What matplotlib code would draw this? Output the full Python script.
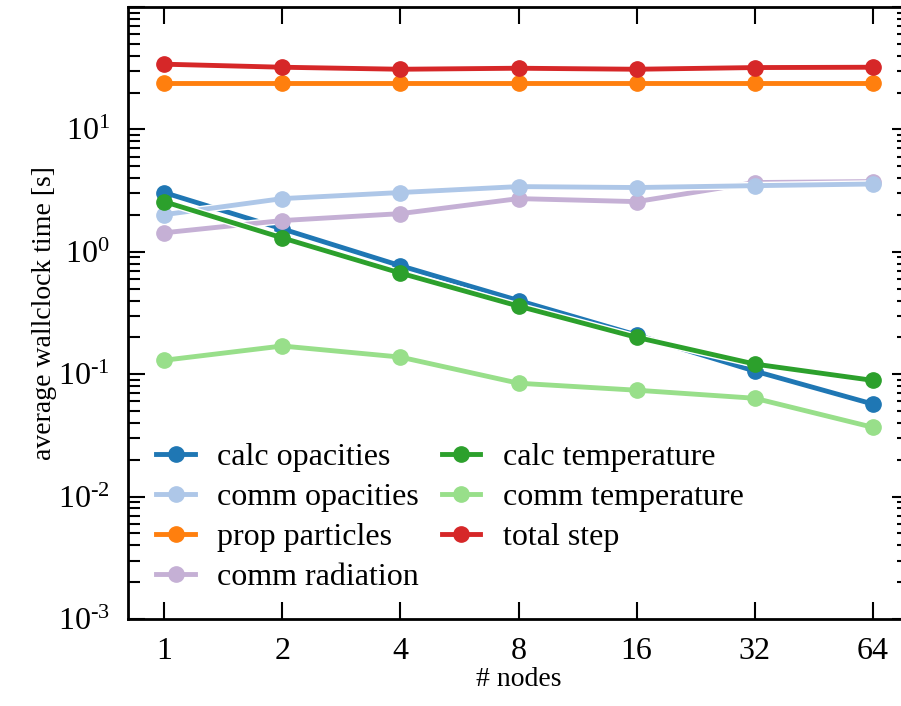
import math

import matplotlib
matplotlib.use('Agg')
import matplotlib.pyplot as plt
import matplotlib.patheffects as pe
from matplotlib.lines import Line2D
from matplotlib.ticker import FixedLocator, FuncFormatter, LogLocator, NullFormatter

nodes = [1, 2, 4, 8, 16, 32, 64]

calc_opacities = [3.05, 1.54, 0.77, 0.40, 0.209, 0.106, 0.057]
comm_opacities = [2.01, 2.72, 3.05, 3.41, 3.35, 3.47, 3.58]
prop_particles = [23.8, 23.8, 23.8, 23.8, 23.8, 23.8, 23.8]
comm_radiation = [1.43, 1.80, 2.05, 2.72, 2.57, 3.68, 3.75]
calc_temperature = [2.57, 1.30, 0.67, 0.36, 0.20, 0.121, 0.089]
comm_temperature = [0.130, 0.170, 0.138, 0.0844, 0.074, 0.0636, 0.0368]
total_step = [34.1, 32.2, 31.0, 31.6, 31.0, 32.0, 32.2]

labels = ['calc opacities', 'comm opacities', 'prop particles', 'comm radiation',
          'calc temperature', 'comm temperature', 'total step']
colors = ['#1f77b4', '#aec7e8', '#ff7f0e', '#c5b0d5',
          '#2ca02c', '#98df8a', '#d62728']

plt.rcParams['font.family'] = ['Liberation Serif', 'DejaVu Serif']
plt.rcParams['mathtext.fontset'] = 'custom'
plt.rcParams['mathtext.rm'] = 'Liberation Serif'
plt.rcParams['mathtext.it'] = 'Liberation Serif:italic'


def pow10(y, pos):
    k = int(round(math.log10(y)))
    if k > 1:
        return ''
    return r'10$^{\text{%d}}$' % k


fig = plt.figure(figsize=(9.01, 7.06), dpi=100)
ax = fig.add_axes([0.1421, 0.1232, 0.8668, 0.8669])

series = [calc_opacities, comm_opacities, prop_particles, comm_radiation,
          calc_temperature, comm_temperature, total_step]
zorders = [2, 2.6, 2, 2.5, 2.7, 2, 2]
lw = 3.5
handles = []
for data, label, color, z in zip(series, labels, colors, zorders):
    ax.plot(nodes, data, '-', color=color, lw=lw, zorder=z,
            path_effects=[pe.Stroke(linewidth=lw + 2, foreground='white'), pe.Normal()])
    ax.plot(nodes, data, 'o', color=color, ms=11, zorder=z + 0.05)
    handles.append(Line2D([], [], color=color, lw=lw, marker='o', ms=11, label=label))

ax.set_xscale('log', base=2)
ax.set_yscale('log')
ax.set_xlim(2 ** -0.305, 2 ** 6.305)
ax.set_ylim(1e-3, 1e2)

ax.xaxis.set_major_locator(FixedLocator(nodes))
ax.xaxis.set_major_formatter(FuncFormatter(lambda x, _: f'{int(round(x))}'))
ax.xaxis.set_minor_locator(FixedLocator([]))
ax.yaxis.set_major_locator(LogLocator(base=10, numticks=10))
ax.yaxis.set_minor_locator(LogLocator(base=10, subs=range(2, 10), numticks=10))
ax.yaxis.set_major_formatter(FuncFormatter(pow10))
ax.yaxis.set_minor_formatter(NullFormatter())

ax.tick_params(which='both', direction='in', top=True, right=True)
ax.tick_params(which='major', length=12, width=1.5, labelsize=23, pad=13)
ax.tick_params(which='minor', length=8.5, width=1.5)
for s in ax.spines.values():
    s.set_linewidth(2)

ax.set_xlabel('# nodes', fontsize=20, labelpad=1)
ax.set_ylabel('average wallclock time [s]', fontsize=20, labelpad=1)

ax.legend(handles=handles, loc='upper left', bbox_to_anchor=(0.02, 0.3095), ncol=2,
          frameon=False, fontsize=23, handlelength=1.2, handletextpad=0.7,
          columnspacing=0.72, labelspacing=0.34, borderaxespad=0)

fig.savefig('out.png', dpi=100)
